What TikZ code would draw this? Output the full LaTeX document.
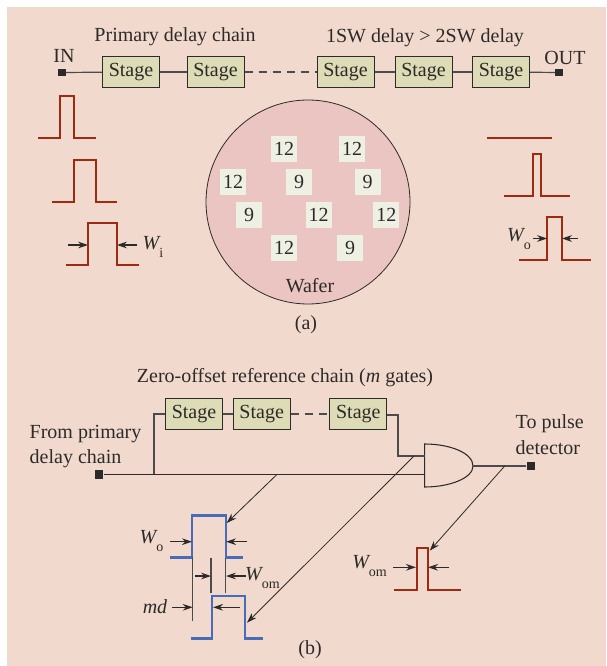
\documentclass[tikz,border=0pt]{standalone}
\usepackage{fontspec}
\setmainfont{Liberation Serif}
\usepackage{tikz}
\usetikzlibrary{arrows.meta,positioning,calc}
\definecolor{panelbg}{RGB}{241,217,205}
\definecolor{stagefill}{RGB}{221,220,182}
\definecolor{waferfill}{RGB}{234,197,193}
\definecolor{diefill}{RGB}{238,240,228}
\definecolor{pulsered}{RGB}{158,42,18}
\definecolor{pulseblue}{RGB}{72,108,184}
\definecolor{linedark}{RGB}{45,42,42}
\newcommand{\subW}[2]{\textit{#1}\kern-1.2pt\raisebox{-0.85ex}{\fontsize{10.5}{12}\selectfont #2}}

\begin{document}
\begin{tikzpicture}[
  x=0.75pt, y=-0.75pt,
  font=\fontsize{15}{18}\selectfont, >={Stealth[length=7.5pt,width=5pt]},
  text=linedark,
  stagebox/.style={draw=linedark, line width=0.7pt, fill=stagefill,
    inner sep=0pt, minimum width=42.8pt, minimum height=22.8pt},
  term/.style={fill=linedark, inner sep=0pt, minimum size=5.5pt},
  die/.style={fill=diefill, inner sep=0pt, minimum size=19.5pt},
  wafer/.style={circle, draw=linedark, line width=0.6pt, fill=waferfill,
    inner sep=0pt, minimum size=153pt},
  wire/.style={line width=0.9pt, linedark!85!white},
  wired/.style={wire, dashed, dash pattern=on 6pt off 4.5pt},
  sigline/.style={line width=1.1pt, linedark},
  rpulse/.style={line width=1.5pt, pulsered},
  bpulse/.style={line width=1.8pt, pulseblue},
  dim/.style={->, line width=0.9pt, linedark},
  tick/.style={line width=0.9pt, linedark!85!white},
  probe/.style={->, line width=0.6pt, linedark},
  gate/.style={line width=0.8pt, linedark},
]
\fill[panelbg] (7,7) rectangle (606,666);
\useasboundingbox (0,0) rectangle (606,666);
% (a) primary chain
\node[term] (IN) at (62,72.5) {};
\node[term] (OUT) at (559,72.5) {};
\foreach \i/\x in {1/131, 2/215.5, 3/345.5, 4/423.5, 5/501} {
  \node[stagebox] (S\i) at (\x,72) {Stage};
}
\draw[wire] (IN) -- (S1);
\draw[wire] (S1) -- (S2);
\draw[wired] (S2) -- (S3);
\draw[wire] (S3) -- (S4);
\draw[wire] (S4) -- (S5);
\draw[wire] (S5) -- (OUT);
\node (tIN) at (64,55.5) {IN};
\node (tOUT) at (565,57.5) {OUT};
\node (tP) at (175,36.5) {Primary delay chain};
\node (tD) at (425,37.5) {1SW delay > 2SW delay};
% wafer
\node[wafer] (W) at (308,202) {};
\foreach \n/\x/\y/\t in {a/284/149/12, b/352/149/12, c/233/182/12, d/299/182/9,
    e/367.7/182/9, f/249/215/9, g/318.7/215/12, h/386.3/215/12, k/284/248/12,
    l/350/248/9} {
  \node[die] (D\n) at (\x,\y) {\t};
}
\node (tW) at (310,285.5) {Wafer};
\node (ta) at (306,324.5) {(a)};
% pulses, (a)
\foreach \xa/\xb/\xc/\xd/\yt/\yb in {38/60/74/96/96/138, 52/74/95.5/117/160/202,
    66/88/116.5/138.5/223/265, 504/533/540.7/570/154/196.5,
    518.5/547/562/591/217.5/260, 394/416.7/427.7/461/548.3/589.7} {
  \draw[rpulse] (\xa,\yb) -- (\xb,\yb) -- (\xb,\yt) -- (\xc,\yt) -- (\xc,\yb) -- (\xd,\yb);
}
\draw[rpulse] (487,138) -- (552,138);
\node[anchor=west] (tWi) at (138,247) {\subW{W}{i}};
\node[anchor=east] (tWo) at (535.5,239) {\subW{W}{o}};
% (b) reference chain
\node (tZ) at (285,377.5) {Zero-offset reference chain (\textit{m} gates)};
\node[stagebox] (R1) at (194,414) {Stage};
\node[stagebox] (R2) at (261.7,414) {Stage};
\node[stagebox] (R3) at (358.3,414) {Stage};
\node[term, minimum size=6.5pt] (FR) at (99,474.7) {};
\node[term, minimum size=6.5pt] (TO) at (531,466) {};
\coordinate (gT) at (424.7,444);
\coordinate (gB) at (424.7,487);
\coordinate (gI1) at (424.7,456);
\coordinate (gI2) at (424.7,474.7);
\coordinate (gO) at (473,466);
\draw[gate, fill=panelbg] (gT) .. controls (450,444) and (473,453) .. (gO)
  .. controls (473,478) and (450,487) .. (gB) -- cycle;
\coordinate (jT) at (154,474.7);
\coordinate (jU) at (398,415);
\draw[wire] (R1) -- (R2);
\draw[wired] (R2) -- (R3);
\draw[wire] (jT) |- (R1.west);
\draw[wire] (R3.east |- jU) -- (jU) |- (gI1);
\draw[sigline] (FR) -- (gI2);
\draw[wire] (gO) -- (TO);
\node[anchor=west] (tFa) at (25,434.5) {From primary};
\node[anchor=west] (tFb) at (25,458.5) {delay chain};
\node[anchor=west] (tTa) at (511,423.5) {To pulse};
\node[anchor=west] (tTb) at (511,447.5) {detector};
\node (tb) at (310,649.5) {(b)};
% pulses, (b)
\foreach \xa/\xb/\xc/\xd/\yt/\yb in {170/192/225.7/243/515.3/557.3,
    190.5/212/245/263/596/638.3} {
  \draw[bpulse] (\xa,\yb) -- (\xb,\yb) -- (\xb,\yt) -- (\xc,\yt) -- (\xc,\yb) -- (\xd,\yb);
}
\foreach \x/\ya/\yb in {192.7/557/621, 211/557.7/593, 225.3/558/593} {
  \draw[tick] (\x,\ya) -- (\x,\yb);
}
% width arrows
\foreach \i/\xa/\xb/\y in {1/68/88/245, 2/137/117/245, 3/533/547/238.5, 4/578/562/238.5,
    5/170/192/541.7, 6/247/226/541.7, 7/195/211/576, 8/246/226/576,
    9/172/192.7/607.3, 10/240/213/607.3, 11/393/416/567.3, 12/449/428/567.3} {
  \coordinate (da\i) at (\xa,\y);
  \coordinate (db\i) at (\xb,\y);
  \draw[dim] (da\i) -- (db\i);
}
\node[anchor=east] (tWo2) at (168,541) {\subW{W}{o}};
\node[anchor=west] (tWm) at (240.5,578) {\subW{W}{om}};
\node[anchor=east] (tmd) at (172,607) {\textit{md}};
\node[anchor=east] (tWm2) at (391.5,566) {\subW{W}{om}};
% tap arrows
\coordinate (jA) at (276.7,474.7);
\coordinate (jB) at (414,456);
\coordinate (jC) at (504.7,466);
\coordinate (pA) at (226.7,523);
\coordinate (pB) at (247,622.7);
\coordinate (pC) at (429.7,550.7);
\draw[probe] (jA) -- (pA);
\draw[probe] (jB) -- (pB);
\draw[probe] (jC) -- (pC);
\end{tikzpicture}
\end{document}
